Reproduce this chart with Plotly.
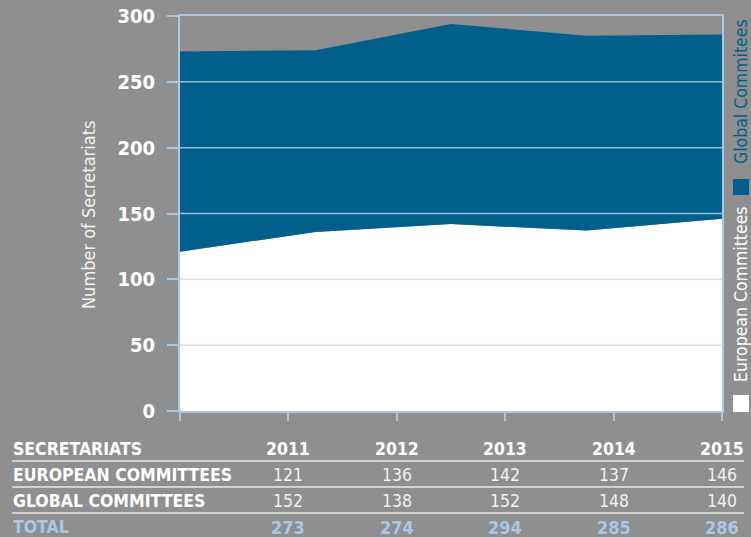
import plotly.graph_objects as go
import numpy as np

years = ["2011", "2012", "2013", "2014", "2015"]
european = [121, 136, 142, 137, 146]
global_c = [152, 138, 152, 148, 140]
totals = [273, 274, 294, 285, 286]
y_ticks = [0, 50, 100, 150, 200, 250, 300]
row_labels = ["SECRETARIATS", "EUROPEAN COMMITTEES", "GLOBAL COMMITTEES", "TOTAL"]

BG = "#8e8f8e"
BLUE = "#00608b"
LIGHT = "#a9c8e6"
GRID = "rgba(195,218,242,0.75)"
NARROW = "DejaVu Sans Condensed, Liberation Sans Narrow, sans-serif"

W, H = 751, 537
L, R, T, B = 180, 29, 16, 126
PW, PH = W - L - R, H - T - B

def px_x(px):
    return (px - L) / PW

def px_y(py):
    return (H - B - py) / PH

xs = list(range(len(years)))
fig = go.Figure()
fig.add_trace(go.Scatter(x=xs, y=european, mode="lines", stackgroup="one",
                         line=dict(width=0, color="white"), fillcolor="white",
                         hoverinfo="skip", showlegend=False))
fig.add_trace(go.Scatter(x=xs, y=global_c, mode="lines", stackgroup="one",
                         line=dict(width=0, color=BLUE), fillcolor=BLUE,
                         hoverinfo="skip", showlegend=False))

# table column positions (aligned with x ticks)
col_pos = list(np.linspace(0, len(years) - 1, len(years) + 1))

shapes = []
for v in y_ticks[1:-1]:
    shapes.append(dict(type="line", xref="x domain", yref="y", x0=0, x1=1, y0=v, y1=v,
                       line=dict(color=GRID, width=1.5), layer="above"))
# table separator lines
for py in [461, 487, 513]:
    shapes.append(dict(type="line", xref="paper", yref="paper", x0=px_x(12), x1=px_x(744),
                       y0=px_y(py), y1=px_y(py), line=dict(color="#e8e8e8", width=1.6)))
# legend squares
shapes.append(dict(type="rect", xref="paper", yref="paper", x0=px_x(733), x1=px_x(749),
                   y0=px_y(195), y1=px_y(179), fillcolor=BLUE, line=dict(width=0)))
shapes.append(dict(type="rect", xref="paper", yref="paper", x0=px_x(733), x1=px_x(749),
                   y0=px_y(412), y1=px_y(395), fillcolor="white", line=dict(width=0)))

ann = []
ann.append(dict(text="Number of Secretariats", xref="paper", yref="paper", x=px_x(88), y=px_y(215),
                xanchor="center", yanchor="middle",
                textangle=-90, showarrow=False, font=dict(family=NARROW, size=18, color="#f2f2f2")))
ann.append(dict(text="Global Commitees", xref="paper", yref="paper", x=px_x(741), y=px_y(92),
                xanchor="center", yanchor="middle",
                textangle=-90, showarrow=False, font=dict(family=NARROW, size=17.5, color=BLUE)))
ann.append(dict(text="European Committees", xref="paper", yref="paper", x=px_x(741), y=px_y(294),
                xanchor="center", yanchor="middle",
                textangle=-90, showarrow=False, font=dict(family=NARROW, size=17.5, color="white")))

row_y = [449, 475, 501, 527]
row_colors = ["white", "white", "white", "#a9c9ea"]
for lbl, py, c in zip(row_labels, row_y, row_colors):
    ann.append(dict(text="<b>" + lbl + "</b>", xref="paper", yref="paper", x=px_x(11), y=px_y(py),
                    xanchor="left", yanchor="middle", showarrow=False,
                    font=dict(family=NARROW, size=17.5, color=c)))
rows = [[f"<b>{y}</b>" for y in years], [str(v) for v in european],
        [str(v) for v in global_c], [f"<b>{v}</b>" for v in totals]]
sizes = [17.5, 17.5, 17.5, 18]
for r, (vals, py, c) in enumerate(zip(rows, row_y, row_colors)):
    for i, v in enumerate(vals):
        ann.append(dict(text=v, xref="x", yref="paper", x=col_pos[i + 1], y=px_y(py),
                        xanchor="center", yanchor="middle", showarrow=False,
                        font=dict(family=NARROW, size=sizes[r],
                                  color=("#f2f2f2" if r in (1, 2) else c))))

fig.update_layout(
    width=W, height=H, margin=dict(l=L, r=R, t=T, b=B, autoexpand=False),
    paper_bgcolor=BG, plot_bgcolor=BG,
    shapes=shapes, annotations=ann, showlegend=False,
    xaxis=dict(range=[0, len(years) - 1], tickvals=col_pos, showticklabels=False,
               ticks="outside", ticklen=8, tickcolor=LIGHT, tickwidth=1.5,
               showgrid=False, zeroline=False, showline=True, linecolor=LIGHT, linewidth=2,
               mirror=True, automargin=False),
    yaxis=dict(range=[0, 300], tickvals=y_ticks, ticks="outside", ticklen=11,
               tickcolor=LIGHT, tickwidth=1.5, ticklabelstandoff=8,
               tickfont=dict(family=NARROW, size=20, color="white", weight="bold"),
               showgrid=False, zeroline=False, showline=True, linecolor=LIGHT, linewidth=2,
               mirror=True, automargin=False),
)
fig.write_html("out.html", config={"displayModeBar": False},
               post_script="document.body.style.margin='0';")
